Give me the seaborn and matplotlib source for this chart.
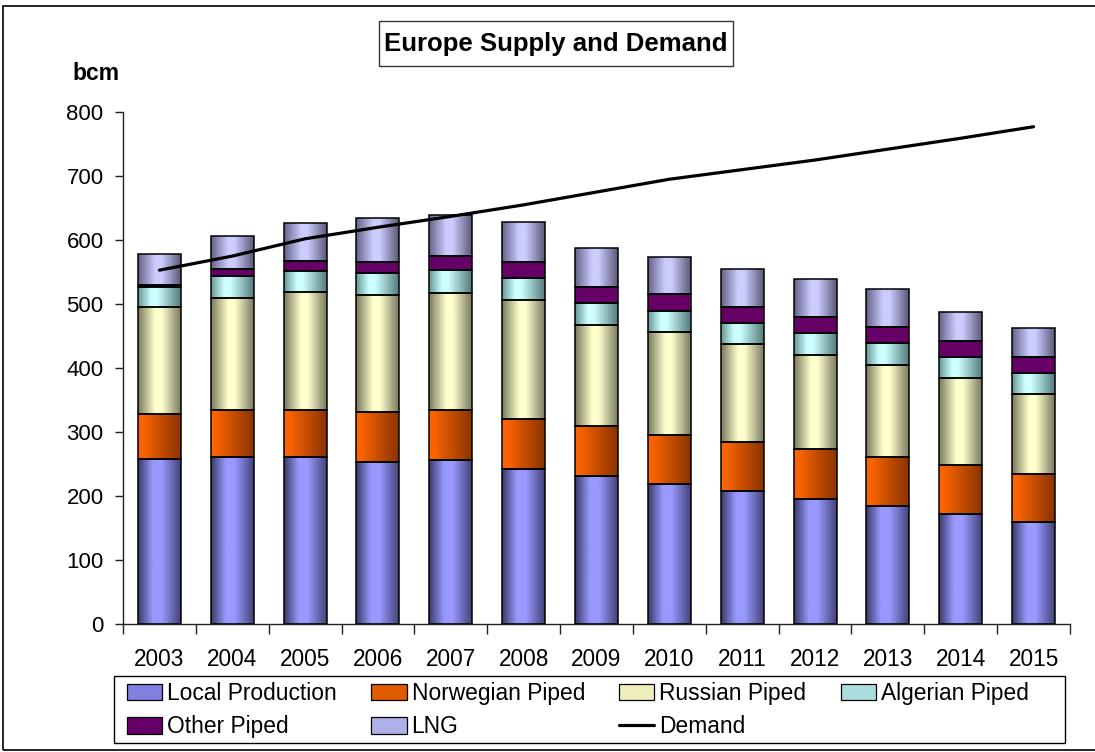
import numpy as np
import matplotlib
matplotlib.use("Agg")
import matplotlib.pyplot as plt
import seaborn as sns
from matplotlib.colors import LinearSegmentedColormap
from matplotlib.patches import Patch, Rectangle
from matplotlib.lines import Line2D

# data (bcm)
years = ['2003', '2004', '2005', '2006', '2007', '2008', '2009',
         '2010', '2011', '2012', '2013', '2014', '2015']
local = [258, 262, 261, 254, 257, 243, 232, 219, 208, 196, 185, 172, 160]
norwegian = [71, 72, 74, 78, 77, 78, 77, 77, 76, 77, 76, 76, 75]
russian = [166, 175, 184, 182, 183, 186, 158, 160, 154, 148, 144, 136, 124]
algerian = [32, 35, 33, 34, 36, 33, 34, 34, 33, 34, 34, 34, 34]
other = [3, 11, 15, 17, 22, 25, 26, 26, 25, 25, 25, 25, 24]
lng = [48, 51, 59, 69, 64, 64, 61, 58, 59, 59, 59, 44, 45]
demand = [553, 575, 602, 620, 637, 655, 675, 695, 710, 725, 742, 759, 777]

names = ['Local Production', 'Norwegian Piped', 'Russian Piped',
         'Algerian Piped', 'Other Piped', 'LNG']
series = [local, norwegian, russian, algerian, other, lng]

# excel-like horizontal shading per series
shades = [
    [(0, '#3a3a6a'), (0.35, '#9999ff'), (0.55, '#9999ff'), (1, '#43437a')],
    [(0, '#ff6600'), (0.15, '#f56200'), (1, '#8a3300')],
    [(0, '#7a7a5e'), (0.4, '#ffffcc'), (0.55, '#ffffcc'), (1, '#7a7a62')],
    [(0, '#669696'), (0.3, '#ccffff'), (0.45, '#ccffff'), (1, '#567b7b')],
    [(0, '#660066'), (1, '#660066')],
    [(0, '#636388'), (0.4, '#ccccff'), (0.55, '#ccccff'), (1, '#595977')],
]
legend_cols = ['#8080e0', '#e05a00', '#eeeebb', '#aadddd', '#660066', '#b0b0e8']

sns.set_style('ticks')
plt.rcParams['font.family'] = ['Liberation Sans', 'DejaVu Sans']
plt.rcParams['text.color'] = 'black'
plt.rcParams['xtick.color'] = 'black'
plt.rcParams['ytick.color'] = 'black'

W, H = 1095, 752
fig = plt.figure(figsize=(W / 100, H / 100), dpi=100)
ax = fig.add_axes([123 / W, 1 - 624.3 / H, (1070 - 123) / W, (624.3 - 112) / H])

grad = np.linspace(0, 1, 200).reshape(1, -1)


def shade(bar, cmap):
    x0, y0 = bar.get_x(), bar.get_y()
    w, h = bar.get_width(), bar.get_height()
    im = ax.imshow(grad, cmap=cmap, extent=(x0, x0 + w, y0, y0 + h),
                   aspect='auto', interpolation='bilinear', zorder=2)
    im.set_clip_path(bar)
    bar.set_facecolor('none')
    bar.set_zorder(3)


bottom = np.zeros(len(years))
for name, vals, stops in zip(names, series, shades):
    sns.barplot(x=years, y=vals, bottom=bottom, color=stops[0][1], saturation=1,
                width=0.59, edgecolor='black', linewidth=1.1, errorbar=None, ax=ax)
    cmap = LinearSegmentedColormap.from_list(name, stops)
    for bar in ax.containers[-1]:
        shade(bar, cmap)
    bottom = bottom + np.array(vals)

sns.lineplot(x=np.arange(len(years)), y=demand, color='black', linewidth=2.3,
             ax=ax, zorder=5)

ax.set_xlim(-0.5, len(years) - 0.5)
ax.set_ylim(0, 800)
ax.set_yticks(range(0, 801, 100))
ax.set_xticks(range(len(years)))
ax.set_xticklabels(years)
ax.set_xticks(np.arange(-0.5, len(years)), minor=True)
ax.set_xlabel('')
ax.set_ylabel('')
ax.tick_params(axis='x', which='major', length=0, pad=17, labelsize=16.3)
ax.tick_params(axis='x', which='minor', bottom=True, length=7, width=1, color='#222222')
ax.tick_params(axis='y', length=6, width=1, pad=8, labelsize=16, color='#222222')
for s in ['top', 'right']:
    ax.spines[s].set_visible(False)
for s in ['left', 'bottom']:
    ax.spines[s].set_color('#222222')
    ax.spines[s].set_linewidth(1)

handles = [Patch(facecolor=c, edgecolor='black', lw=0.9) for c in legend_cols]
handles.append(Line2D([], [], color='black', lw=2.3))
labels = names + ['Demand']
order = [0, 4, 1, 5, 2, 6, 3]
leg = fig.legend([handles[i] for i in order], [labels[i] for i in order], ncol=4,
                 loc='center left', bbox_to_anchor=(127 / W, 1 - 710 / H),
                 frameon=False, fontsize=16.4,
                 handlelength=1.55, handleheight=0.75, handletextpad=0.22,
                 columnspacing=1.5, labelspacing=0.45, borderaxespad=0, borderpad=0)
# legend box drawn separately to keep the wide excel frame
fig.add_artist(Rectangle((114 / W, 1 - 743 / H), (1065 - 114) / W, (743 - 676) / H,
                         transform=fig.transFigure, fill=False, ec='black', lw=1))

# title with its own frame
fig.add_artist(Rectangle((379 / W, 1 - 66 / H), (733 - 379) / W, (66 - 21) / H,
                         transform=fig.transFigure, fc='white', ec='#333333', lw=1))
fig.text(556 / W, 1 - 43.5 / H, 'Europe Supply and Demand', ha='center', va='center',
         fontsize=18.5, fontweight='bold')
fig.text(72 / W, 1 - 73 / H, 'bcm', ha='left', va='center', fontsize=16.5, fontweight='bold')

fig.add_artist(Rectangle((3 / W, 1 - 750 / H), 1.2, (750 - 6) / H, transform=fig.transFigure,
                         fill=False, ec='black', lw=1.2))

fig.savefig('out.png', dpi=100)
